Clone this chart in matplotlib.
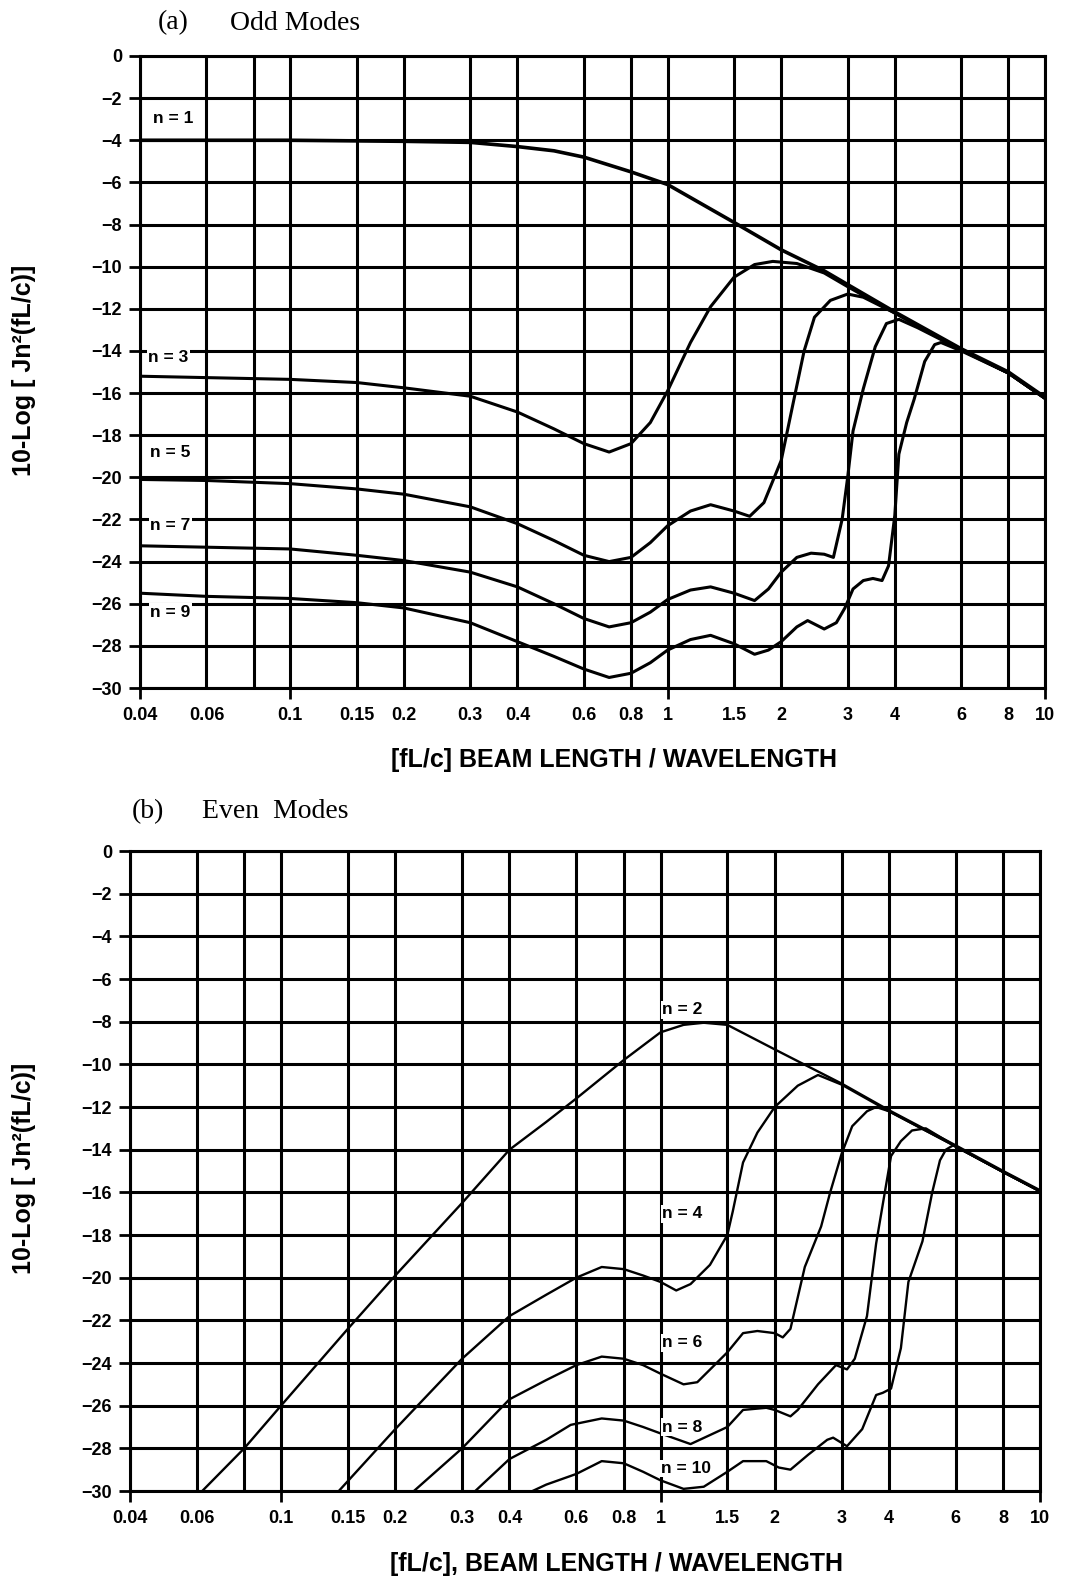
import matplotlib
matplotlib.use("Agg")
import matplotlib.pyplot as plt
from matplotlib.ticker import FixedLocator, FixedFormatter, NullFormatter

# ---------------- data ----------------
x_ticks = [0.04, 0.06, 0.08, 0.1, 0.15, 0.2, 0.3, 0.4, 0.6, 0.8, 1, 1.5, 2, 3, 4, 6, 8, 10]
x_tick_labels = ["0.04", "0.06", "", "0.1", "0.15", "0.2", "0.3", "0.4", "0.6", "0.8",
                 "1", "1.5", "2", "3", "4", "6", "8", "10"]
x_major_marks = [0.04, 0.1, 1, 10]
y_ticks = [0, -2, -4, -6, -8, -10, -12, -14, -16, -18, -20, -22, -24, -26, -28, -30]

# (a) odd modes
n1_x = [0.04, 0.1, 0.2, 0.3, 0.4, 0.5, 0.6, 0.8, 1.0, 1.5, 2, 2.6, 3, 4, 6, 8, 10]
n1_y = [-4.0, -4.0, -4.05, -4.1, -4.3, -4.5, -4.8, -5.5, -6.1, -7.9, -9.2, -10.2, -10.85, -12.15, -13.9, -15.0, -16.2]

n3_x = [0.04, 0.1, 0.15, 0.2, 0.3, 0.4, 0.5, 0.6, 0.7, 0.8, 0.9, 1.0, 1.15, 1.3, 1.5, 1.7, 1.9, 2.2, 2.6, 3, 4, 6, 8, 10]
n3_y = [-15.2, -15.35, -15.5, -15.75, -16.15, -16.9, -17.7, -18.4, -18.8, -18.4, -17.4, -15.9, -13.6, -11.9, -10.5, -9.9, -9.75, -9.85, -10.3, -10.95, -12.2, -13.95, -15.05, -16.25]

n5_x = [0.04, 0.06, 0.1, 0.15, 0.2, 0.3, 0.4, 0.5, 0.6, 0.7, 0.8, 0.9, 1.0, 1.15, 1.3, 1.5, 1.65, 1.8, 2.0, 2.15, 2.3, 2.45, 2.7, 3.0, 3.3, 4, 6, 8, 10]
n5_y = [-20.1, -20.15, -20.3, -20.55, -20.8, -21.4, -22.2, -23.0, -23.7, -24.0, -23.8, -23.1, -22.3, -21.6, -21.3, -21.6, -21.85, -21.2, -19.2, -16.5, -14.0, -12.4, -11.6, -11.3, -11.45, -12.2, -13.95, -15.05, -16.25]

n7_x = [0.04, 0.1, 0.15, 0.2, 0.3, 0.4, 0.5, 0.6, 0.7, 0.8, 0.9, 1.0, 1.15, 1.3, 1.5, 1.7, 1.85, 2.0, 2.2, 2.4, 2.6, 2.75, 2.9, 3.0, 3.1, 3.3, 3.55, 3.8, 4.1, 4.6, 6, 8, 10]
n7_y = [-23.25, -23.4, -23.7, -23.95, -24.5, -25.2, -26.0, -26.7, -27.1, -26.9, -26.4, -25.8, -25.35, -25.2, -25.5, -25.85, -25.3, -24.5, -23.8, -23.6, -23.65, -23.8, -22.0, -20.0, -17.8, -15.8, -13.8, -12.7, -12.5, -12.9, -13.95, -15.05, -16.25]

n9_x = [0.04, 0.06, 0.1, 0.15, 0.2, 0.3, 0.4, 0.5, 0.6, 0.7, 0.8, 0.9, 1.0, 1.15, 1.3, 1.5, 1.7, 1.85, 2.0, 2.2, 2.35, 2.6, 2.8, 2.95, 3.1, 3.3, 3.5, 3.7, 3.85, 4.0, 4.1, 4.3, 4.5, 4.8, 5.1, 5.3, 6, 8, 10]
n9_y = [-25.5, -25.65, -25.75, -25.95, -26.2, -26.9, -27.8, -28.5, -29.1, -29.5, -29.3, -28.8, -28.2, -27.7, -27.5, -27.9, -28.4, -28.2, -27.8, -27.1, -26.8, -27.2, -26.9, -26.2, -25.3, -24.9, -24.8, -24.9, -24.2, -21.8, -18.9, -17.4, -16.3, -14.5, -13.7, -13.6, -14.0, -15.05, -16.25]

# (b) even modes
n2_x = [0.062, 0.08, 0.1, 0.15, 0.2, 0.3, 0.4, 0.5, 0.6, 0.8, 1.0, 1.15, 1.3, 1.5, 2, 3, 4, 6, 8, 10]
n2_y = [-30.0, -28.0, -26.0, -22.4, -19.9, -16.5, -14.0, -12.7, -11.6, -9.8, -8.5, -8.15, -8.05, -8.15, -9.3, -10.9, -12.15, -13.8, -15.0, -15.9]

n4_x = [0.142, 0.2, 0.3, 0.4, 0.5, 0.6, 0.7, 0.8, 0.9, 1.0, 1.1, 1.2, 1.35, 1.5, 1.55, 1.65, 1.8, 2.0, 2.3, 2.6, 3, 4, 6, 8, 10]
n4_y = [-30.0, -27.1, -23.8, -21.8, -20.8, -20.0, -19.5, -19.6, -19.9, -20.2, -20.6, -20.3, -19.4, -18.0, -16.9, -14.6, -13.2, -12.0, -11.0, -10.5, -10.95, -12.2, -13.85, -15.05, -15.95]

n6_x = [0.224, 0.3, 0.4, 0.5, 0.6, 0.7, 0.8, 0.9, 1.0, 1.15, 1.25, 1.5, 1.65, 1.8, 2.0, 2.1, 2.2, 2.4, 2.65, 2.8, 3.0, 3.2, 3.5, 3.7, 4, 6, 8, 10]
n6_y = [-30.0, -28.0, -25.7, -24.8, -24.1, -23.7, -23.8, -24.1, -24.5, -25.0, -24.9, -23.5, -22.6, -22.5, -22.6, -22.8, -22.4, -19.5, -17.6, -16.0, -14.2, -12.9, -12.2, -12.0, -12.2, -13.85, -15.05, -15.95]

n8_x = [0.325, 0.4, 0.5, 0.58, 0.7, 0.8, 0.9, 1.0, 1.2, 1.5, 1.65, 1.9, 2.0, 2.2, 2.3, 2.6, 2.9, 3.0, 3.1, 3.25, 3.5, 3.7, 3.9, 4.05, 4.3, 4.6, 5.0, 6, 8, 10]
n8_y = [-30.0, -28.5, -27.6, -26.9, -26.6, -26.7, -27.0, -27.3, -27.8, -27.0, -26.2, -26.1, -26.2, -26.5, -26.2, -25.0, -24.1, -24.2, -24.3, -23.8, -21.8, -18.4, -16.0, -14.3, -13.6, -13.1, -13.0, -13.85, -15.05, -15.95]

n10_x = [0.46, 0.5, 0.6, 0.7, 0.8, 0.9, 1.0, 1.15, 1.3, 1.5, 1.65, 1.9, 2.05, 2.2, 2.45, 2.75, 2.85, 3.1, 3.4, 3.7, 3.85, 4.05, 4.3, 4.5, 4.9, 5.2, 5.45, 5.65, 5.9, 6.2, 8, 10]
n10_y = [-30.0, -29.7, -29.2, -28.6, -28.7, -29.1, -29.5, -29.9, -29.8, -29.1, -28.6, -28.6, -28.9, -29.0, -28.3, -27.6, -27.5, -27.9, -27.1, -25.5, -25.4, -25.2, -23.3, -20.2, -18.3, -16.0, -14.5, -14.0, -13.8, -14.0, -15.05, -15.95]

odd_series = [(n1_x, n1_y, 2.6), (n3_x, n3_y, 2.2), (n5_x, n5_y, 2.2), (n7_x, n7_y, 2.2), (n9_x, n9_y, 2.2)]
even_series = [(n2_x, n2_y, 1.7), (n4_x, n4_y, 1.7), (n6_x, n6_y, 1.7), (n8_x, n8_y, 1.7), (n10_x, n10_y, 1.7)]

odd_labels = [("n = 1", 0.0433, -2.95), ("n = 3", 0.042, -14.3), ("n = 5", 0.0425, -18.8),
              ("n = 7", 0.0425, -22.3), ("n = 9", 0.0425, -26.4)]
even_labels = [("n = 2", 1.01, -7.45), ("n = 4", 1.01, -17.0), ("n = 6", 1.01, -23.05),
               ("n = 8", 1.01, -27.0), ("n = 10", 1.0, -28.95)]

# ---------------- figure ----------------
W, H = 1083, 1577
fig = plt.figure(figsize=(W / 100, H / 100), dpi=100)
SANS = "Liberation Sans"
SERIF = "Liberation Serif"


def setup(ax, xlabel, label_x):
    ax.set_xscale("log")
    ax.set_xlim(0.04, 10)
    ax.set_ylim(-30, 0)
    ax.xaxis.set_major_locator(FixedLocator(x_ticks))
    ax.xaxis.set_major_formatter(FixedFormatter(x_tick_labels))
    ax.xaxis.set_minor_locator(FixedLocator(x_major_marks))
    ax.xaxis.set_minor_formatter(NullFormatter())
    ax.xaxis.remove_overlapping_locs = False
    ax.set_yticks(y_ticks)
    ax.set_yticklabels([("\u2212" + str(-v)) if v < 0 else str(v) for v in y_ticks])
    ax.tick_params(axis="x", which="major", length=0, pad=14, labelsize=13)
    ax.tick_params(axis="x", which="minor", length=8, width=2, direction="out")
    ax.tick_params(axis="y", which="major", length=8, width=2, direction="out", pad=5, labelsize=13)
    for lab in ax.get_xticklabels() + ax.get_yticklabels():
        lab.set_fontweight("bold")
        lab.set_family(SANS)
    ax.grid(True, which="major", color="black", linewidth=2.2)
    ax.set_axisbelow(True)
    for s in ax.spines.values():
        s.set_linewidth(2.2)
    ax.set_xlabel(xlabel, fontsize=18, fontweight="bold", family=SANS)
    ax.xaxis.set_label_coords(label_x, -0.095)


ax1 = fig.add_axes([140 / W, 1 - 688 / H, (1045 - 140) / W, (688 - 56) / H])
ax2 = fig.add_axes([130 / W, 1 - 1491 / H, (1040 - 130) / W, (1491 - 851) / H])

setup(ax1, "[fL/c] BEAM LENGTH / WAVELENGTH", 0.524)
setup(ax2, "[fL/c], BEAM LENGTH / WAVELENGTH", 0.535)

for xs, ys, lw in odd_series:
    ax1.plot(xs, ys, color="black", linewidth=lw, solid_joinstyle="round", solid_capstyle="round", zorder=3)
for xs, ys, lw in even_series:
    ax2.plot(xs, ys, color="black", linewidth=lw, solid_joinstyle="round", solid_capstyle="round", zorder=3)

for txt, x, y in odd_labels:
    ax1.text(x, y, txt, fontsize=12.5, fontweight="bold", family=SANS, ha="left", va="center", zorder=4,
             bbox=dict(facecolor="white", edgecolor="none", pad=1.0))
for txt, x, y in even_labels:
    ax2.text(x, y, txt, fontsize=12.5, fontweight="bold", family=SANS, ha="left", va="center", zorder=4,
             bbox=dict(facecolor="white", edgecolor="none", pad=1.0))

# y labels
ylab = "10-Log [ Jn\u00b2(fL/c)]"
fig.text(24 / W, 1 - 370 / H, ylab, rotation=90, ha="center", va="center",
         fontsize=18, fontweight="bold", family=SANS)
fig.text(24 / W, 1 - 1168 / H, ylab, rotation=90, ha="center", va="center",
         fontsize=18, fontweight="bold", family=SANS)

# panel titles
fig.text(158 / W, 1 - 23 / H, "(a)", ha="left", va="center", fontsize=20, family=SERIF)
fig.text(230 / W, 1 - 23 / H, "Odd Modes", ha="left", va="center", fontsize=20, family=SERIF)
fig.text(132 / W, 1 - 812 / H, "(b)", ha="left", va="center", fontsize=20, family=SERIF)
fig.text(202 / W, 1 - 812 / H, "Even  Modes", ha="left", va="center", fontsize=20, family=SERIF)

fig.savefig("out.png", dpi=100, facecolor="white")
